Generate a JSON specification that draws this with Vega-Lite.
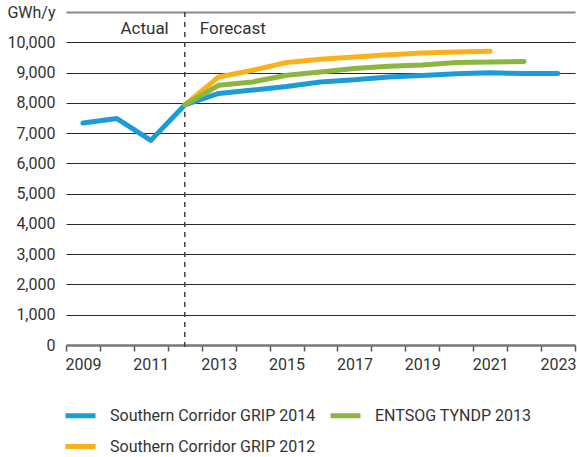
{
  "$schema": "https://vega.github.io/schema/vega-lite/v6.json",
  "width": 509,
  "height": 333,
  "autosize": {"type": "none"},
  "padding": {"left": 66, "top": 12, "right": 2, "bottom": 112},
  "background": "white",
  "config": {
    "view": {"stroke": null},
    "font": "Roboto",
    "axis": {"labelColor": "#333", "labelFontSize": 16, "title": null, "labelFont": "Roboto"},
    "legend": {"labelFont": "Roboto"},
    "text": {"font": "Roboto", "fontWeight": "normal"}
  },
  "encoding": {
    "x": {
      "field": "year",
      "type": "ordinal",
      "scale": {"type": "band", "paddingInner": 0, "paddingOuter": 0, "domain": [2009, 2010, 2011, 2012, 2013, 2014, 2015, 2016, 2017, 2018, 2019, 2020, 2021, 2022, 2023]},
      "axis": {
        "title": null,
        "labelAngle": 0,
        "tickBand": "extent",
        "labelExpr": "datum.value % 2 == 1 ? datum.label : ''",
        "domainColor": "#777",
        "domainWidth": 2.5,
        "tickColor": "#555",
        "tickWidth": 1.5,
        "tickSize": 6,
        "labelPadding": 5,
        "grid": false
      }
    },
    "y": {
      "field": "value",
      "type": "quantitative",
      "scale": {"domain": [0, 11000], "nice": false},
      "axis": {
        "title": null,
        "values": [0, 1000, 2000, 3000, 4000, 5000, 6000, 7000, 8000, 9000, 10000, 11000],
        "labelExpr": "datum.value == 11000 ? 'GWh/y' : format(datum.value, ',')",
        "labelOverlap": false,
        "domain": false,
        "ticks": false,
        "labelPadding": 11,
        "grid": true,
        "gridColor": {"condition": {"test": "datum.value == 11000 || datum.value == 0", "value": "#888"}, "value": "#2a2a2a"},
        "gridWidth": {"condition": {"test": "datum.value == 11000", "value": 2}, "value": 1.2}
      }
    }
  },
  "layer": [
    {
      "data": {"values": [{"year": 2012, "value": 11000}]},
      "mark": {"type": "rule", "strokeDash": [5, 5], "color": "#444", "strokeWidth": 1.5, "y2Offset": 6},
      "encoding": {
        "y2": {"datum": 0}
      }
    },
    {
      "data": {"values": [{"year": 2012, "value": 10450, "label": "Actual"}]},
      "mark": {"type": "text", "align": "right", "dx": -16, "fontSize": 17, "color": "#333", "baseline": "middle", "fontWeight": "normal"},
      "encoding": {
        "text": {"field": "label"}
      }
    },
    {
      "data": {"values": [{"year": 2012, "value": 10450, "label": "Forecast"}]},
      "mark": {"type": "text", "align": "left", "dx": 15, "fontSize": 17, "color": "#333", "baseline": "middle", "fontWeight": "normal"},
      "encoding": {
        "text": {"field": "label"}
      }
    },
    {
      "data": {
        "values": [
          {"series": "Southern Corridor GRIP 2012", "year": 2012, "value": 7930},
          {"series": "Southern Corridor GRIP 2012", "year": 2013, "value": 8855},
          {"series": "Southern Corridor GRIP 2012", "year": 2014, "value": 9075},
          {"series": "Southern Corridor GRIP 2012", "year": 2015, "value": 9330},
          {"series": "Southern Corridor GRIP 2012", "year": 2016, "value": 9440},
          {"series": "Southern Corridor GRIP 2012", "year": 2017, "value": 9515},
          {"series": "Southern Corridor GRIP 2012", "year": 2018, "value": 9590},
          {"series": "Southern Corridor GRIP 2012", "year": 2019, "value": 9645},
          {"series": "Southern Corridor GRIP 2012", "year": 2020, "value": 9680},
          {"series": "Southern Corridor GRIP 2012", "year": 2021, "value": 9700},
          {"series": "Southern Corridor GRIP 2014", "year": 2009, "value": 7330},
          {"series": "Southern Corridor GRIP 2014", "year": 2010, "value": 7480},
          {"series": "Southern Corridor GRIP 2014", "year": 2011, "value": 6760},
          {"series": "Southern Corridor GRIP 2014", "year": 2012, "value": 7930},
          {"series": "Southern Corridor GRIP 2014", "year": 2013, "value": 8310},
          {"series": "Southern Corridor GRIP 2014", "year": 2014, "value": 8420},
          {"series": "Southern Corridor GRIP 2014", "year": 2015, "value": 8540},
          {"series": "Southern Corridor GRIP 2014", "year": 2016, "value": 8690},
          {"series": "Southern Corridor GRIP 2014", "year": 2017, "value": 8760},
          {"series": "Southern Corridor GRIP 2014", "year": 2018, "value": 8855},
          {"series": "Southern Corridor GRIP 2014", "year": 2019, "value": 8900},
          {"series": "Southern Corridor GRIP 2014", "year": 2020, "value": 8960},
          {"series": "Southern Corridor GRIP 2014", "year": 2021, "value": 8990},
          {"series": "Southern Corridor GRIP 2014", "year": 2022, "value": 8970},
          {"series": "Southern Corridor GRIP 2014", "year": 2023, "value": 8965},
          {"series": "ENTSOG TYNDP 2013", "year": 2012, "value": 7930},
          {"series": "ENTSOG TYNDP 2013", "year": 2013, "value": 8580},
          {"series": "ENTSOG TYNDP 2013", "year": 2014, "value": 8690},
          {"series": "ENTSOG TYNDP 2013", "year": 2015, "value": 8910},
          {"series": "ENTSOG TYNDP 2013", "year": 2016, "value": 9020},
          {"series": "ENTSOG TYNDP 2013", "year": 2017, "value": 9130},
          {"series": "ENTSOG TYNDP 2013", "year": 2018, "value": 9205},
          {"series": "ENTSOG TYNDP 2013", "year": 2019, "value": 9250},
          {"series": "ENTSOG TYNDP 2013", "year": 2020, "value": 9330},
          {"series": "ENTSOG TYNDP 2013", "year": 2021, "value": 9350},
          {"series": "ENTSOG TYNDP 2013", "year": 2022, "value": 9365}
        ]
      },
      "mark": {"type": "line", "strokeWidth": 5, "strokeCap": "round", "strokeJoin": "round"},
      "encoding": {
        "color": {
          "field": "series",
          "type": "nominal",
          "scale": {
            "domain": ["Southern Corridor GRIP 2014", "Southern Corridor GRIP 2012", "ENTSOG TYNDP 2013"],
            "range": ["#1b9cd9", "#fcb01a", "#8cb63e"]
          },
          "legend": {
            "title": null,
            "orient": "none",
            "legendX": -3,
            "legendY": 386,
            "columns": 2,
            "symbolType": "stroke",
            "symbolSize": 900,
            "symbolStrokeWidth": 5,
            "labelFontSize": 16,
            "labelColor": "#333",
            "labelOffset": 12,
            "columnPadding": 4,
            "rowPadding": 3,
            "labelLimit": 400
          }
        }
      }
    }
  ]
}
